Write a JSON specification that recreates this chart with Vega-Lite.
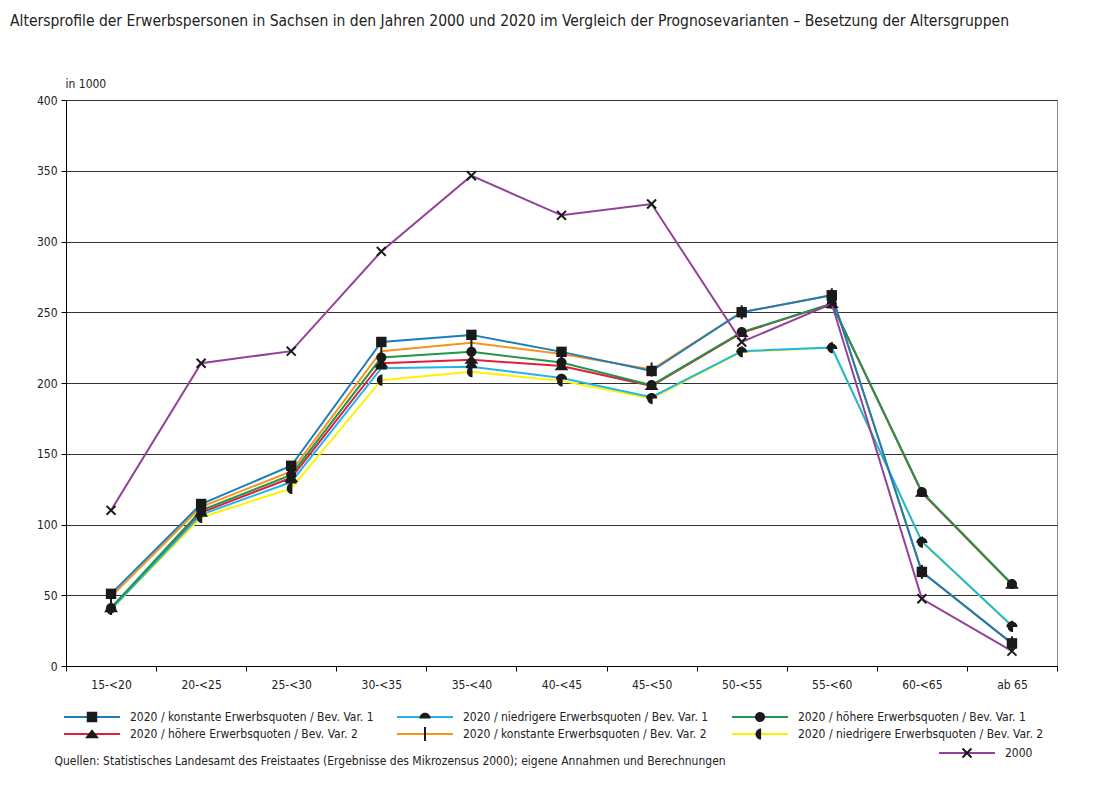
{
  "$schema": "https://vega.github.io/schema/vega-lite/v6.json",
  "width": 991,
  "height": 566,
  "autosize": {"type": "none"},
  "padding": {"left": 66, "top": 100, "right": 56, "bottom": 126},
  "background": "white",
  "config": {
    "font": "Liberation Sans Narrow, Arial Narrow, DejaVu Sans Condensed, Roboto Condensed, sans-serif",
    "view": {"stroke": "#888", "strokeWidth": 1},
    "axis": {"labelFontSize": 12, "labelColor": "#222", "titleFontWeight": "normal", "titleFontSize": 12, "titleColor": "#222", "domainColor": "#000", "tickColor": "#000"},
    "legend": {"labelFontSize": 12, "labelColor": "#222", "labelLimit": 0, "padding": 0, "columnPadding": 22, "rowPadding": 0, "clipHeight": 17, "symbolSize": 3136, "symbolStrokeWidth": 2, "labelOffset": 9, "title": null}
  },
  "title": {
    "text": "Altersprofile der Erwerbspersonen in Sachsen in den Jahren 2000 und 2020 im Vergleich der Prognosevarianten – Besetzung der Altersgruppen",
    "anchor": "start",
    "frame": "group",
    "dx": -56,
    "offset": 48,
    "fontSize": 15.5,
    "fontWeight": "normal",
    "color": "#222"
  },
  "datasets": {
    "d": [
      {"a": "15-<20", "s": "2020 / niedrigere Erwerbsquoten / Bev. Var. 2", "v": 40},
      {"a": "20-<25", "s": "2020 / niedrigere Erwerbsquoten / Bev. Var. 2", "v": 105},
      {"a": "25-<30", "s": "2020 / niedrigere Erwerbsquoten / Bev. Var. 2", "v": 125.5},
      {"a": "30-<35", "s": "2020 / niedrigere Erwerbsquoten / Bev. Var. 2", "v": 202},
      {"a": "35-<40", "s": "2020 / niedrigere Erwerbsquoten / Bev. Var. 2", "v": 208},
      {"a": "40-<45", "s": "2020 / niedrigere Erwerbsquoten / Bev. Var. 2", "v": 201.5},
      {"a": "45-<50", "s": "2020 / niedrigere Erwerbsquoten / Bev. Var. 2", "v": 189},
      {"a": "50-<55", "s": "2020 / niedrigere Erwerbsquoten / Bev. Var. 2", "v": 222},
      {"a": "55-<60", "s": "2020 / niedrigere Erwerbsquoten / Bev. Var. 2", "v": 225},
      {"a": "60-<65", "s": "2020 / niedrigere Erwerbsquoten / Bev. Var. 2", "v": 87.5},
      {"a": "ab 65", "s": "2020 / niedrigere Erwerbsquoten / Bev. Var. 2", "v": 28},
      {"a": "15-<20", "s": "2020 / konstante Erwerbsquoten / Bev. Var. 2", "v": 49},
      {"a": "20-<25", "s": "2020 / konstante Erwerbsquoten / Bev. Var. 2", "v": 112.5},
      {"a": "25-<30", "s": "2020 / konstante Erwerbsquoten / Bev. Var. 2", "v": 137.5},
      {"a": "30-<35", "s": "2020 / konstante Erwerbsquoten / Bev. Var. 2", "v": 222.5},
      {"a": "35-<40", "s": "2020 / konstante Erwerbsquoten / Bev. Var. 2", "v": 228.5},
      {"a": "40-<45", "s": "2020 / konstante Erwerbsquoten / Bev. Var. 2", "v": 220.5},
      {"a": "45-<50", "s": "2020 / konstante Erwerbsquoten / Bev. Var. 2", "v": 209.5},
      {"a": "50-<55", "s": "2020 / konstante Erwerbsquoten / Bev. Var. 2", "v": 250},
      {"a": "55-<60", "s": "2020 / konstante Erwerbsquoten / Bev. Var. 2", "v": 262},
      {"a": "60-<65", "s": "2020 / konstante Erwerbsquoten / Bev. Var. 2", "v": 66.5},
      {"a": "ab 65", "s": "2020 / konstante Erwerbsquoten / Bev. Var. 2", "v": 16},
      {"a": "15-<20", "s": "2020 / höhere Erwerbsquoten / Bev. Var. 2", "v": 41},
      {"a": "20-<25", "s": "2020 / höhere Erwerbsquoten / Bev. Var. 2", "v": 108.5},
      {"a": "25-<30", "s": "2020 / höhere Erwerbsquoten / Bev. Var. 2", "v": 133},
      {"a": "30-<35", "s": "2020 / höhere Erwerbsquoten / Bev. Var. 2", "v": 214},
      {"a": "35-<40", "s": "2020 / höhere Erwerbsquoten / Bev. Var. 2", "v": 216.5},
      {"a": "40-<45", "s": "2020 / höhere Erwerbsquoten / Bev. Var. 2", "v": 212},
      {"a": "45-<50", "s": "2020 / höhere Erwerbsquoten / Bev. Var. 2", "v": 198},
      {"a": "50-<55", "s": "2020 / höhere Erwerbsquoten / Bev. Var. 2", "v": 235.5},
      {"a": "55-<60", "s": "2020 / höhere Erwerbsquoten / Bev. Var. 2", "v": 256},
      {"a": "60-<65", "s": "2020 / höhere Erwerbsquoten / Bev. Var. 2", "v": 122.5},
      {"a": "ab 65", "s": "2020 / höhere Erwerbsquoten / Bev. Var. 2", "v": 57.5},
      {"a": "15-<20", "s": "2020 / niedrigere Erwerbsquoten / Bev. Var. 1", "v": 40},
      {"a": "20-<25", "s": "2020 / niedrigere Erwerbsquoten / Bev. Var. 1", "v": 107},
      {"a": "25-<30", "s": "2020 / niedrigere Erwerbsquoten / Bev. Var. 1", "v": 130},
      {"a": "30-<35", "s": "2020 / niedrigere Erwerbsquoten / Bev. Var. 1", "v": 210.5},
      {"a": "35-<40", "s": "2020 / niedrigere Erwerbsquoten / Bev. Var. 1", "v": 211.5},
      {"a": "40-<45", "s": "2020 / niedrigere Erwerbsquoten / Bev. Var. 1", "v": 203.5},
      {"a": "45-<50", "s": "2020 / niedrigere Erwerbsquoten / Bev. Var. 1", "v": 190},
      {"a": "50-<55", "s": "2020 / niedrigere Erwerbsquoten / Bev. Var. 1", "v": 222.5},
      {"a": "55-<60", "s": "2020 / niedrigere Erwerbsquoten / Bev. Var. 1", "v": 225},
      {"a": "60-<65", "s": "2020 / niedrigere Erwerbsquoten / Bev. Var. 1", "v": 88},
      {"a": "ab 65", "s": "2020 / niedrigere Erwerbsquoten / Bev. Var. 1", "v": 28.5},
      {"a": "15-<20", "s": "2020 / höhere Erwerbsquoten / Bev. Var. 1", "v": 41},
      {"a": "20-<25", "s": "2020 / höhere Erwerbsquoten / Bev. Var. 1", "v": 110},
      {"a": "25-<30", "s": "2020 / höhere Erwerbsquoten / Bev. Var. 1", "v": 135},
      {"a": "30-<35", "s": "2020 / höhere Erwerbsquoten / Bev. Var. 1", "v": 218},
      {"a": "35-<40", "s": "2020 / höhere Erwerbsquoten / Bev. Var. 1", "v": 222},
      {"a": "40-<45", "s": "2020 / höhere Erwerbsquoten / Bev. Var. 1", "v": 214.5},
      {"a": "45-<50", "s": "2020 / höhere Erwerbsquoten / Bev. Var. 1", "v": 198.5},
      {"a": "50-<55", "s": "2020 / höhere Erwerbsquoten / Bev. Var. 1", "v": 236},
      {"a": "55-<60", "s": "2020 / höhere Erwerbsquoten / Bev. Var. 1", "v": 256},
      {"a": "60-<65", "s": "2020 / höhere Erwerbsquoten / Bev. Var. 1", "v": 123},
      {"a": "ab 65", "s": "2020 / höhere Erwerbsquoten / Bev. Var. 1", "v": 58},
      {"a": "15-<20", "s": "2020 / konstante Erwerbsquoten / Bev. Var. 1", "v": 51},
      {"a": "20-<25", "s": "2020 / konstante Erwerbsquoten / Bev. Var. 1", "v": 114.5},
      {"a": "25-<30", "s": "2020 / konstante Erwerbsquoten / Bev. Var. 1", "v": 141.5},
      {"a": "30-<35", "s": "2020 / konstante Erwerbsquoten / Bev. Var. 1", "v": 229},
      {"a": "35-<40", "s": "2020 / konstante Erwerbsquoten / Bev. Var. 1", "v": 234},
      {"a": "40-<45", "s": "2020 / konstante Erwerbsquoten / Bev. Var. 1", "v": 222},
      {"a": "45-<50", "s": "2020 / konstante Erwerbsquoten / Bev. Var. 1", "v": 208.5},
      {"a": "50-<55", "s": "2020 / konstante Erwerbsquoten / Bev. Var. 1", "v": 250},
      {"a": "55-<60", "s": "2020 / konstante Erwerbsquoten / Bev. Var. 1", "v": 262},
      {"a": "60-<65", "s": "2020 / konstante Erwerbsquoten / Bev. Var. 1", "v": 66.5},
      {"a": "ab 65", "s": "2020 / konstante Erwerbsquoten / Bev. Var. 1", "v": 16},
      {"a": "15-<20", "s": "2000", "v": 110},
      {"a": "20-<25", "s": "2000", "v": 214},
      {"a": "25-<30", "s": "2000", "v": 222.5},
      {"a": "30-<35", "s": "2000", "v": 293},
      {"a": "35-<40", "s": "2000", "v": 346.5},
      {"a": "40-<45", "s": "2000", "v": 318.5},
      {"a": "45-<50", "s": "2000", "v": 326.5},
      {"a": "50-<55", "s": "2000", "v": 229},
      {"a": "55-<60", "s": "2000", "v": 256},
      {"a": "60-<65", "s": "2000", "v": 47.5},
      {"a": "ab 65", "s": "2000", "v": 10.5}
    ]
  },
  "data": {"name": "d"},
  "encoding": {
    "x": {
      "field": "a", "type": "nominal", "bandPosition": 0.5,
      "scale": {"type": "band", "paddingInner": 0, "paddingOuter": 0, "domain": ["15-<20","20-<25","25-<30","30-<35","35-<40","40-<45","45-<50","50-<55","55-<60","60-<65","ab 65"]},
      "axis": {
        "title": "Quellen: Statistisches Landesamt des Freistaates (Ergebnisse des Mikrozensus 2000); eigene Annahmen und Berechnungen",
        "titleX": -12, "titleY": 94, "titleAlign": "left", "titleAnchor": "start", "titleBaseline": "middle",
        "labelAngle": 0, "tickBand": "extent", "tickSize": 5, "labelPadding": 8, "grid": false, "domainWidth": 1
      }
    },
    "y": {
      "field": "v", "type": "quantitative",
      "scale": {"domain": [0, 400], "nice": false},
      "axis": {
        "title": "in 1000", "titleAngle": 0, "titleAlign": "left", "titleBaseline": "middle", "titleX": -1, "titleY": -17,
        "values": [0, 50, 100, 150, 200, 250, 300, 350, 400],
        "tickSize": 5, "labelPadding": 4, "grid": true, "gridColor": "#333", "gridOpacity": 1, "gridWidth": 1
      }
    }
  },
  "layer": [
    {
      "transform": [{"filter": "datum.s != '2000'"}],
      "mark": {"type": "line", "strokeWidth": 2},
      "encoding": {
        "color": {
          "field": "s", "type": "nominal",
          "scale": {
            "domain": ["2020 / konstante Erwerbsquoten / Bev. Var. 1", "2020 / höhere Erwerbsquoten / Bev. Var. 2", "2020 / niedrigere Erwerbsquoten / Bev. Var. 1", "2020 / konstante Erwerbsquoten / Bev. Var. 2", "2020 / höhere Erwerbsquoten / Bev. Var. 1", "2020 / niedrigere Erwerbsquoten / Bev. Var. 2"],
            "range": ["#1c7db8", "#e21f3f", "#1fb5e8", "#f7941e", "#22964a", "#fff200"]
          },
          "legend": {"orient": "none", "legendX": -3, "legendY": 608.5, "columns": 3, "symbolType": "stroke", "title": null}
        }
      }
    },
    {
      "transform": [{"filter": "datum.s != '2000'"}],
      "mark": {"type": "point", "filled": true, "color": "#1a1a1a", "opacity": 1, "size": 3136},
      "encoding": {
        "shape": {
          "field": "s", "type": "nominal",
          "scale": {
            "domain": ["2020 / konstante Erwerbsquoten / Bev. Var. 1", "2020 / höhere Erwerbsquoten / Bev. Var. 2", "2020 / niedrigere Erwerbsquoten / Bev. Var. 1", "2020 / konstante Erwerbsquoten / Bev. Var. 2", "2020 / höhere Erwerbsquoten / Bev. Var. 1", "2020 / niedrigere Erwerbsquoten / Bev. Var. 2"],
            "range": [
              "M-0.186,-0.186H0.186V0.186H-0.186Z",
              "M0,-0.17L0.25,0.15H-0.25Z",
              "M-0.2,0.05A0.2,0.2 0 0,1 0.2,0.05Z",
              "M-0.036,-0.25H0.036V0.25H-0.036Z",
              "M-0.18,0A0.18,0.18 0 1,1 0.18,0A0.18,0.18 0 1,1 -0.18,0Z",
              "M0.04,-0.2A0.2,0.2 0 0,0 0.04,0.2Z"
            ]
          },
          "legend": {"orient": "none", "legendX": -3, "legendY": 608.5, "columns": 3, "labelOpacity": 0, "symbolFillColor": "#1a1a1a", "symbolStrokeColor": "transparent", "title": null}
        }
      }
    },
    {
      "transform": [{"filter": "datum.s == '2000'"}],
      "mark": {"type": "line", "strokeWidth": 2},
      "encoding": {
        "color": {
          "field": "s", "type": "nominal",
          "scale": {"domain": ["2000"], "range": ["#93429a"]},
          "legend": {"orient": "none", "legendX": 872, "legendY": 644.5, "symbolType": "stroke", "title": null}
        }
      }
    },
    {
      "transform": [{"filter": "datum.s == '2000'"}],
      "mark": {"type": "point", "filled": false, "color": "#1a1a1a", "strokeWidth": 2, "opacity": 1, "size": 3136},
      "encoding": {
        "shape": {
          "field": "s", "type": "nominal",
          "scale": {"domain": ["2000"], "range": ["M-0.16,-0.16L0.16,0.16M-0.16,0.16L0.16,-0.16"]},
          "legend": {"orient": "none", "legendX": 872, "legendY": 644.5, "labelOpacity": 0, "symbolStrokeColor": "#1a1a1a", "symbolFillColor": "transparent", "title": null}
        }
      }
    }
  ],
  "resolve": {"scale": {"color": "independent", "shape": "independent"}}
}
